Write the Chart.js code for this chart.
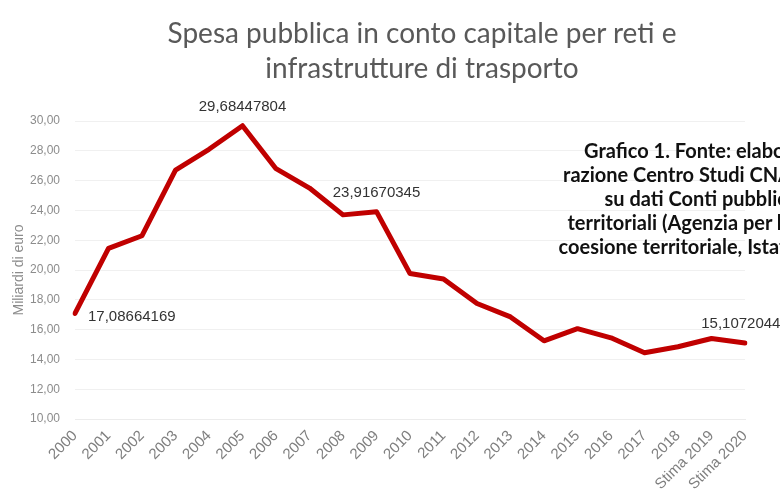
<!DOCTYPE html>
<html>
<head>
<meta charset="utf-8">
<title>Spesa pubblica in conto capitale</title>
<script src="https://cdn.jsdelivr.net/npm/chart.js@4.4.0/dist/chart.umd.min.js"></script>
<style>
  html, body { margin: 0; padding: 0; background: #fff; }
  #wrap { position: relative; width: 780px; height: 496px; overflow: hidden; }
  #grafico { position: absolute; left: 0; top: 0; }
  #titolo {
    position: absolute; left: 0; top: 15px; width: 844px;
    text-align: center; font-family: Lato, sans-serif; font-size: 28px;
    line-height: 35px; color: #595959;
  }
  #fonte {
    position: absolute; right: -12px; top: 138px;
    text-align: right; font-family: Lato, sans-serif; font-weight: bold;
    font-size: 20px; line-height: 24px; color: #111; white-space: nowrap;
  }
</style>
</head>
<body>
<div id="wrap">
  <canvas id="grafico" width="780" height="496"></canvas>
  <div id="titolo">Spesa pubblica in conto capitale per reti e<br>infrastrutture di trasporto</div>
  <div id="fonte">Grafico 1. Fonte: elabo-<br>razione Centro Studi CNA<br>su dati Conti pubblici<br>territoriali (Agenzia per la<br>coesione territoriale, Istat)</div>
</div>
<script>
// anni e spesa in miliardi di euro
const anni = ['2000', '2001', '2002', '2003', '2004', '2005', '2006', '2007', '2008', '2009',
  '2010', '2011', '2012', '2013', '2014', '2015', '2016', '2017', '2018', 'Stima 2019', 'Stima 2020'];
const spesa = [17.08664169, 21.45, 22.3, 26.7, 28.1, 29.68447804, 26.8, 25.5, 23.7, 23.91670345,
  19.76, 19.4, 17.75, 16.85, 15.25, 16.06, 15.45, 14.45, 14.85, 15.4, 15.10720446];
const asseY = { min: 10, max: 30, passo: 2 };
// punti con il valore scritto accanto
const conValore = [0, 5, 9, 20];

const virgola = v => String(v).replace('.', ',');

const etichetteValori = {
  id: 'etichetteValori',
  afterDatasetsDraw(chart) {
    const ctx = chart.ctx;
    const meta = chart.getDatasetMeta(0);
    ctx.save();
    ctx.font = '15px "Liberation Sans", Arial, sans-serif';
    ctx.fillStyle = '#333';
    ctx.textBaseline = 'middle';
    conValore.forEach(i => {
      const p = meta.data[i];
      if (i === 0) {
        ctx.textAlign = 'left';
        ctx.fillText(virgola(spesa[i]), p.x + 13, p.y + 3);
      } else {
        ctx.textAlign = 'center';
        ctx.fillText(virgola(spesa[i]), p.x, p.y - 19);
      }
    });
    ctx.restore();
  }
};

new Chart(document.getElementById('grafico'), {
  type: 'line',
  data: {
    labels: anni,
    datasets: [{
      data: spesa,
      borderColor: '#c00000',
      borderWidth: 5,
      pointRadius: 0,
      tension: 0,
      borderJoinStyle: 'round',
      borderCapStyle: 'round'
    }]
  },
  options: {
    responsive: false,
    animation: false,
    layout: { padding: { left: 7, right: 35, top: 121, bottom: 2 } },
    plugins: {
      legend: { display: false },
      tooltip: { enabled: false }
    },
    scales: {
      x: {
        grid: { display: false },
        border: { color: '#ececec' },
        afterFit: s => { s.height = 75; },
        ticks: {
          autoSkip: false, minRotation: 45, maxRotation: 45, padding: 0,
          color: '#7f7f7f', font: { family: '"Liberation Sans", Arial', size: 15 }
        }
      },
      y: {
        min: asseY.min,
        max: asseY.max,
        grid: { color: '#f0f0f0', drawTicks: false },
        border: { display: false },
        afterFit: s => { s.width = 68; },
        ticks: {
          stepSize: asseY.passo, padding: 15,
          color: '#8c8c8c', font: { family: '"Liberation Sans", Arial', size: 12 },
          callback: v => v.toFixed(2).replace('.', ',')
        },
        title: {
          display: true, text: 'Miliardi di euro', color: '#8c8c8c',
          padding: { top: 4, bottom: 5 },
          font: { family: '"Liberation Sans", Arial', size: 14 }
        }
      }
    }
  },
  plugins: [etichetteValori]
});
</script>
</body>
</html>
